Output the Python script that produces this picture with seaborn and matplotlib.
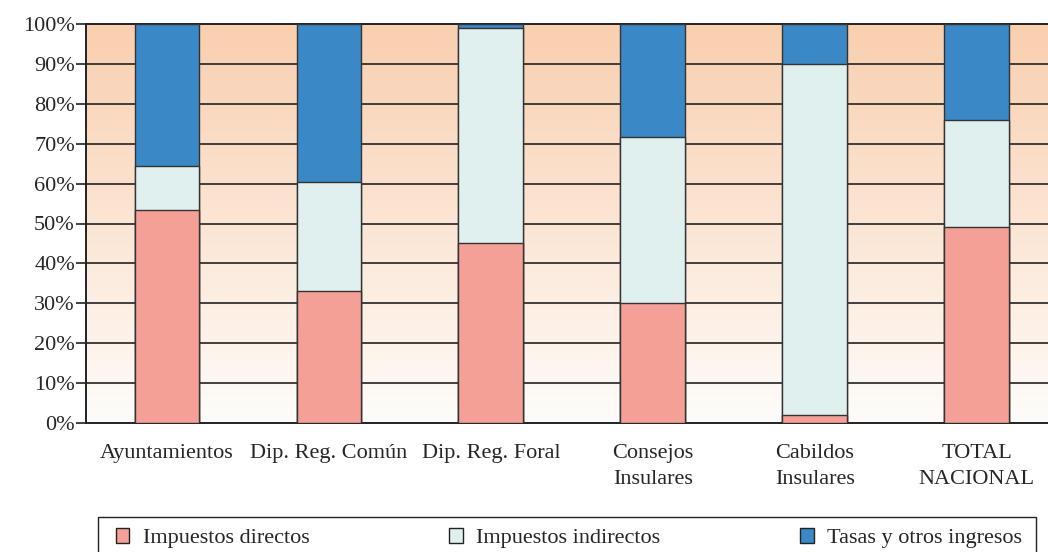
import matplotlib.pyplot as plt
import matplotlib.colors as mcolors
from matplotlib.patches import Patch, Rectangle
import numpy as np
import pandas as pd
import seaborn as sns

categorias = ["Ayuntamientos", "Dip. Reg. Común", "Dip. Reg. Foral",
              "Consejos\nInsulares", "Cabildos\nInsulares", "TOTAL\nNACIONAL"]
directos = [53.5, 33.0, 45.0, 30.0, 2.0, 49.0]
indirectos = [11.0, 27.5, 54.0, 41.7, 88.0, 27.0]
tasas = [35.5, 39.5, 1.0, 28.3, 10.0, 24.0]

series = ["Impuestos directos", "Impuestos indirectos", "Tasas y otros ingresos"]
colores = ["#F4A096", "#E0F0EE", "#3A88C6"]

df = pd.DataFrame({"cat": categorias, "dir": directos, "ind": indirectos, "tas": tasas})
df["c1"] = df["dir"]
df["c2"] = df["dir"] + df["ind"]
df["c3"] = df["c2"] + df["tas"]

sns.set_style("white")
plt.rcParams["font.family"] = ["Liberation Serif", "DejaVu Serif"]

fig = plt.figure(figsize=(10.48, 5.52), dpi=100)
ax = fig.add_axes([86 / 1048, 1 - 423 / 552, 962 / 1048, 399 / 552])

# barras apiladas: se dibujan los acumulados de arriba hacia abajo
for col, c in zip(["c3", "c2", "c1"], colores[::-1]):
    sns.barplot(data=df, x="cat", y=col, color=c, width=0.4, ax=ax,
                edgecolor="#333333", linewidth=1.0, saturation=1, zorder=3)

ax.set_xlim(-0.5, 5.44)
ax.set_ylim(0, 100)

# degradado de fondo
top = np.array(mcolors.to_rgb("#F9CFAF"))
bot = np.array(mcolors.to_rgb("#FEFCFA"))
t = np.linspace(0, 1, 256)[:, None]
grad = bot + (top - bot) * t
ax.imshow(grad[:, None, :] * np.ones((1, 2, 1)), extent=(-0.5, 5.44, 0, 100),
          origin="lower", aspect="auto", zorder=0)

for yv in range(10, 100, 10):
    ax.axhline(yv, color="#222222", lw=1.2, zorder=1)

ax.set_yticks(range(0, 101, 10))
ax.set_yticklabels([f"{v}%" for v in range(0, 101, 10)], fontsize=16)
ax.set_xticks(range(6))
ax.set_xticklabels(categorias, fontsize=16, linespacing=1.5)
ax.set_xticks(np.arange(-0.5, 5.5, 1), minor=True)
ax.tick_params(axis="x", which="major", length=0, pad=15)
ax.tick_params(axis="x", which="minor", length=7, width=1.2, color="#222222", direction="out")
ax.tick_params(axis="y", length=7, width=1.2, color="#222222", direction="out", pad=1, left=True)
ax.set_xlabel("")
ax.set_ylabel("")

for s in ["top", "left", "bottom"]:
    ax.spines[s].set_visible(True)
    ax.spines[s].set_color("#222222")
    ax.spines[s].set_linewidth(1.4)
ax.spines["right"].set_visible(False)

# recuadro de la leyenda
fig.patches.append(Rectangle((98 / 1048, -0.05), 938 / 1048, 0.05 + 1 - 517 / 552,
                             transform=fig.transFigure, fill=False,
                             edgecolor="#222222", lw=1.0))

handles = [Patch(facecolor=c, edgecolor="#222222", lw=1.0) for c in colores]
fig.legend(handles, series, loc="center left", ncol=3, mode="expand",
           bbox_to_anchor=(116 / 1048, 1 - 538 / 552, 906 / 1048, 0),
           fontsize=16, frameon=False, handlelength=0.6, handleheight=0.7,
           handletextpad=0.6, borderpad=0, borderaxespad=0)

fig.savefig("out.png", dpi=100)
